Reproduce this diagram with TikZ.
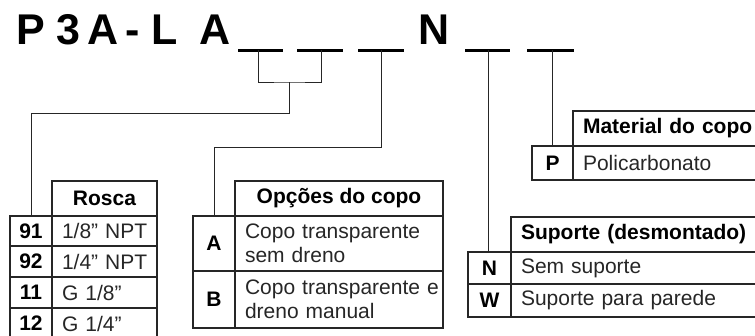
\documentclass[tikz,border=0pt]{standalone}
\usepackage{fontspec}
\setmainfont{Liberation Sans}
\colorlet{lnc}{black!85}
\tikzset{
	cd/.style={draw=lnc, line width=1.1bp, anchor=north west, inner sep=0pt, outer sep=0pt, font=\fontsize{21bp}{24bp}\selectfont\bfseries},
	dt/.style={draw=lnc, text=black!85, line width=1.1bp, anchor=north west, inner ysep=0pt, inner xsep=10bp, outer sep=0pt, align=left, font=\fontsize{21bp}{23.5bp}\selectfont},
	hdl/.style={dt, text=black, font=\fontsize{21bp}{24bp}\selectfont\bfseries},
	lnk/.style={draw=lnc, line width=0.9bp},
	bar/.style={line width=3bp},
	ttl/.style={anchor=base west, inner sep=0pt, font=\fontsize{43bp}{43bp}\selectfont\bfseries}
}
\begin{document}
\begin{tikzpicture}[x=1bp, y=-1bp]
	\useasboundingbox (0,0) rectangle (755,335);
	
	% code
	\node[ttl] (tP) at (16,44) {P};
	\node[ttl] (t3) at (56,44) {3};
	\node[ttl] (tA) at (87,44) {A};
	\node[ttl] (tD) at (125,44) {-};
	\node[ttl] (tL) at (151,44) {L};
	\node[ttl] (tA2) at (199,44) {A};
	\node[ttl] (tN) at (418,44) {N};
	
	\draw[bar] (238,50) -- (283,50);
	\draw[bar] (297,50) -- (343,50);
	\draw[bar] (358,50) -- (404,50);
	\draw[bar] (465,50) -- (510,50);
	\draw[bar] (527,50) -- (574,50);
	\coordinate (s1) at (258,50);
	\coordinate (s2) at (321,50);
	\coordinate (s3) at (381,50);
	\coordinate (s4) at (488,50);
	\coordinate (s5) at (552,50);
	\coordinate (j1) at (289,82);
	
	% Rosca
	\node[cd, minimum width=105bp, minimum height=35bp] (rH) at (52,181) {Rosca};
	\node[cd, minimum width=42bp, minimum height=30bp] (r91) at (10,216) {91};
	\node[dt, text width=85bp, minimum height=30bp] (d91) at (52,216) {\mbox{1/8” NPT}};
	\node[cd, minimum width=42bp, minimum height=31bp] (r92) at (10,246) {92};
	\node[dt, text width=85bp, minimum height=31bp] (d92) at (52,246) {\mbox{1/4” NPT}};
	\node[cd, minimum width=42bp, minimum height=31bp] (r11) at (10,277) {11};
	\node[dt, text width=85bp, minimum height=31bp] (d11) at (52,277) {G 1/8”};
	\node[cd, minimum width=42bp, minimum height=31bp] (r12) at (10,308) {12};
	\node[dt, text width=85bp, minimum height=31bp] (d12) at (52,308) {G 1/4”};
	
	% Opcoes do copo
	\node[cd, minimum width=208bp, minimum height=35bp] (oH) at (235,181) {Opções do copo};
	\node[cd, minimum width=42bp, minimum height=55bp] (oA) at (193,216) {A};
	\node[dt, text width=188bp, minimum height=55bp] (dA) at (235,216) {Copo transparente\\sem dreno};
	\node[cd, minimum width=42bp, minimum height=57bp] (oB) at (193,271) {B};
	\node[dt, text width=188bp, minimum height=57bp] (dB) at (235,271) {\mbox{Copo transparente e}\\dreno manual};
	
	% Material do copo
	\node[hdl, text width=187bp, minimum height=35bp] (mH) at (573,111) {Material do copo};
	\node[cd, minimum width=41bp, minimum height=34bp] (mP) at (532,146) {P};
	\node[dt, text width=187bp, minimum height=34bp] (dP) at (573,146) {Policarbonato};
	
	% Suporte
	\node[hdl, text width=249bp, minimum height=35bp] (sH) at (511,217) {Suporte (desmontado)};
	\node[cd, minimum width=43bp, minimum height=32bp] (sN) at (468,252) {N};
	\node[dt, text width=249bp, minimum height=32bp] (dN) at (511,252) {Sem suporte};
	\node[cd, minimum width=43bp, minimum height=33bp] (sW) at (468,284) {W};
	\node[dt, text width=249bp, minimum height=33bp] (dW) at (511,284) {Suporte para parede};
	
	% links
	\draw[lnk] (s1) |- (j1) -| (s2);
	\draw[lnk] (j1) -- ++(0,31) -| (r91.north);
	\draw[lnk] (s3) -- ++(0,97) -| (oA.north);
	\draw[lnk] (s4) -- (s4 |- sN.north);
	\draw[lnk] (s5) -- (s5 |- mP.north);
\end{tikzpicture}
\end{document}
